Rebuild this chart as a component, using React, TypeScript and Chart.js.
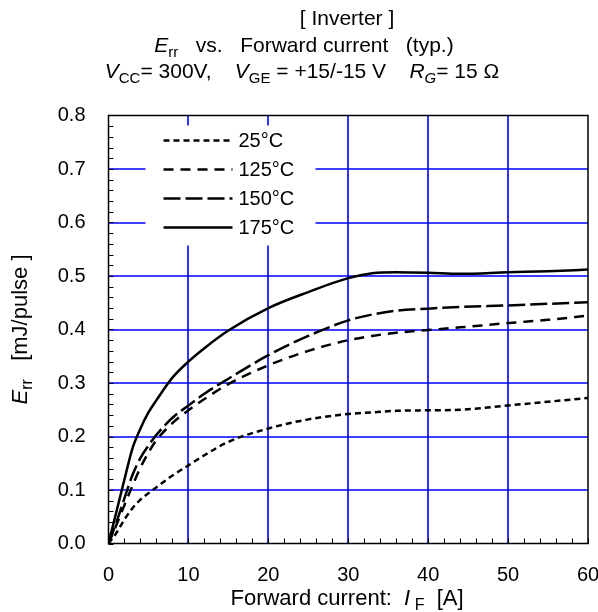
import React, { useEffect, useRef } from "react";
import { Chart, registerables } from "chart.js";
Chart.register(...registerables);

// Forward current I_F [A]
const currentA = [0, 1, 2, 3, 4, 5, 6, 8, 10, 12, 15, 20, 25, 30, 33, 36, 40, 44, 50, 55, 60];
// Err [mJ/pulse]
const err25 = [0, 0.02, 0.045, 0.066, 0.082, 0.094, 0.105, 0.127, 0.146, 0.165, 0.19, 0.215, 0.232, 0.242, 0.245, 0.248, 0.249, 0.25, 0.258, 0.265, 0.272];
const err125 = [0, 0.035, 0.072, 0.108, 0.142, 0.17, 0.193, 0.225, 0.249, 0.27, 0.298, 0.333, 0.36, 0.38, 0.388, 0.394, 0.399, 0.404, 0.412, 0.418, 0.426];
const err150 = [0, 0.04, 0.085, 0.128, 0.16, 0.183, 0.203, 0.235, 0.258, 0.28, 0.308, 0.352, 0.388, 0.417, 0.428, 0.435, 0.439, 0.442, 0.445, 0.448, 0.451];
const err175 = [0, 0.06, 0.12, 0.178, 0.215, 0.245, 0.268, 0.31, 0.34, 0.365, 0.398, 0.44, 0.47, 0.496, 0.505, 0.507, 0.506, 0.504, 0.507, 0.509, 0.512];

const seriesLabels = ["25°C", "125°C", "150°C", "175°C"];
const seriesValues = [err25, err125, err150, err175];
const seriesDashes = [[6, 4], [10, 7], [17, 5], []];

const xMin = 0, xMax = 60, xStep = 10, xMinorStep = 2;
const yMin = 0, yMax = 0.8, yStep = 0.1, yMinorStep = 0.02;

const FONT = "'Liberation Sans', Arial, sans-serif";

type Seg = { t: string; it?: boolean; sub?: boolean };

function segFont(s: Seg, size: number) {
  const sz = s.sub ? Math.round(size * 0.72) : size;
  return `${s.it ? "italic " : ""}${sz}px ${FONT}`;
}

function drawRich(ctx: CanvasRenderingContext2D, segs: Seg[], cx: number, y: number, size: number) {
  let total = 0;
  const widths: number[] = [];
  for (const s of segs) {
    ctx.font = segFont(s, size);
    const w = ctx.measureText(s.t).width;
    widths.push(w);
    total += w;
  }
  let x = cx - total / 2;
  ctx.textAlign = "left";
  ctx.textBaseline = "alphabetic";
  ctx.fillStyle = "#000";
  segs.forEach((s, i) => {
    ctx.font = segFont(s, size);
    ctx.fillText(s.t, x, s.sub ? y + size * 0.22 : y);
    x += widths[i];
  });
}

const titleLine1: Seg[] = [{ t: "[ Inverter ]" }];
const titleLine2: Seg[] = [{ t: "E", it: true }, { t: "rr", sub: true }, { t: "   vs.   Forward current   (typ.)" }];
const titleLine3: Seg[] = [
  { t: "V", it: true }, { t: "CC", sub: true }, { t: "= 300V,    " },
  { t: "V", it: true }, { t: "GE", sub: true }, { t: " = +15/-15 V    " },
  { t: "R", it: true }, { t: "G", sub: true, it: true }, { t: "= 15 Ω" },
];
const xTitle: Seg[] = [{ t: "Forward current:  " }, { t: "I", it: true }, { t: " F", sub: true }, { t: "  [A]" }];
const yTitle: Seg[] = [{ t: "E", it: true }, { t: "rr", sub: true }, { t: "   [mJ/pulse ]" }];

const gridPlugin = {
  id: "customGrid",
  beforeDatasetsDraw(chart: any) {
    const ctx: CanvasRenderingContext2D = chart.ctx;
    const { left, right, top, bottom } = chart.chartArea;
    const xs = chart.scales.x;
    const ys = chart.scales.y;
    ctx.save();
    ctx.strokeStyle = "#0000ff";
    ctx.lineWidth = 1.6;
    ctx.beginPath();
    for (let v = xMin + xStep; v < xMax - 1e-9; v += xStep) {
      const px = Math.round(xs.getPixelForValue(v));
      ctx.moveTo(px, top);
      ctx.lineTo(px, bottom);
    }
    for (let v = yMin + yStep; v < yMax - 1e-9; v += yStep) {
      const py = Math.round(ys.getPixelForValue(v));
      ctx.moveTo(left, py);
      ctx.lineTo(right, py);
    }
    ctx.stroke();
    ctx.restore();
  },
};

const decorPlugin = {
  id: "decor",
  afterDraw(chart: any) {
    const ctx: CanvasRenderingContext2D = chart.ctx;
    const { left, right, top, bottom } = chart.chartArea;
    const xs = chart.scales.x;
    const ys = chart.scales.y;
    ctx.save();
    // legend background box
    ctx.fillStyle = "#fff";
    ctx.fillRect(left + 37, top + 10, 170, 120);
    // minor ticks
    ctx.strokeStyle = "#000";
    ctx.lineWidth = 1;
    ctx.beginPath();
    for (let v = xMin; v <= xMax + 1e-9; v += xMinorStep) {
      const px = Math.round(xs.getPixelForValue(v)) + 0.5;
      ctx.moveTo(px, bottom);
      ctx.lineTo(px, bottom - 5);
    }
    for (let v = yMin; v <= yMax + 1e-9; v += yMinorStep) {
      const py = Math.round(ys.getPixelForValue(v)) + 0.5;
      ctx.moveTo(left, py);
      ctx.lineTo(left + 5, py);
    }
    ctx.stroke();
    // border
    ctx.lineWidth = 1.5;
    ctx.strokeRect(left, top, right - left, bottom - top);

    // legend
    const lx0 = left + 55, lx1 = left + 124, tx = left + 130;
    const rowY = [top + 25, top + 54, top + 83, top + 112];
    seriesLabels.forEach((lab, i) => {
      ctx.beginPath();
      ctx.setLineDash(seriesDashes[i]);
      ctx.lineWidth = 2.5;
      ctx.moveTo(lx0, rowY[i]);
      ctx.lineTo(lx1, rowY[i]);
      ctx.stroke();
      ctx.setLineDash([]);
      ctx.font = `20px ${FONT}`;
      ctx.fillStyle = "#000";
      ctx.textAlign = "left";
      ctx.textBaseline = "middle";
      ctx.fillText(lab, tx, rowY[i] + 1);
    });

    // titles
    drawRich(ctx, titleLine1, 347, 25, 21);
    drawRich(ctx, titleLine2, 304, 52, 21);
    drawRich(ctx, titleLine3, 302, 78, 21);
    drawRich(ctx, xTitle, 347, 605, 22);
    ctx.save();
    ctx.translate(27, (top + bottom) / 2);
    ctx.rotate(-Math.PI / 2);
    drawRich(ctx, yTitle, 0, 0, 22);
    ctx.restore();
    ctx.restore();
  },
};

export default function App() {
  const ref = useRef<HTMLCanvasElement | null>(null);
  useEffect(() => {
    if (!ref.current) return;
    const chart = new Chart(ref.current, {
      type: "line",
      data: {
        datasets: seriesLabels.map((lab, i) => ({
          label: lab,
          data: currentA.map((x, j) => ({ x, y: seriesValues[i][j] })),
          borderColor: "#000",
          borderWidth: 2.5,
          borderDash: seriesDashes[i],
          pointRadius: 0,
          fill: false,
          cubicInterpolationMode: "monotone" as const,
        })),
      },
      options: {
        animation: false,
        responsive: false,
        devicePixelRatio: 1,
        layout: { padding: { top: 115.5, right: 10, left: 0, bottom: 0 } },
        plugins: { legend: { display: false }, tooltip: { enabled: false }, title: { display: false } },
        scales: {
          x: {
            type: "linear",
            min: xMin,
            max: xMax,
            border: { display: false },
            grid: { display: false, drawTicks: false },
            ticks: { stepSize: xStep, color: "#000", font: { family: FONT, size: 20 }, padding: 20, maxRotation: 0 },
            afterFit: (s: any) => { s.height = 612 - 543.5; s.paddingLeft = 0; s.paddingRight = 0; },
          },
          y: {
            type: "linear",
            min: yMin,
            max: yMax,
            border: { display: false },
            grid: { display: false, drawTicks: false },
            ticks: {
              stepSize: yStep,
              color: "#000",
              font: { family: FONT, size: 20 },
              padding: 23,
              callback: (v: any) => Number(v).toFixed(1),
            },
            afterFit: (s: any) => { s.width = 108.5; s.paddingTop = 0; s.paddingBottom = 0; },
          },
        },
      },
      plugins: [gridPlugin, decorPlugin],
    });
    return () => chart.destroy();
  }, []);
  return (
    <div style={{ position: "absolute", left: 0, top: 0, width: 598, height: 612, background: "#fff" }}>
      <canvas ref={ref} width={598} height={612} style={{ display: "block" }} />
    </div>
  );
}
